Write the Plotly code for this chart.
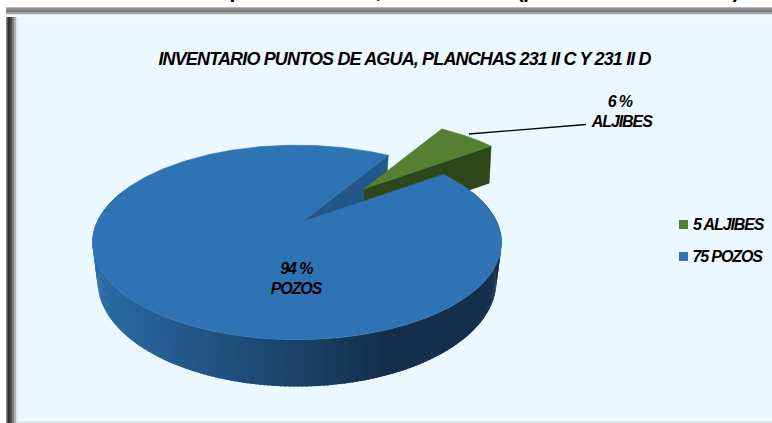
import numpy as np
import plotly.graph_objects as go

# ---- data ----
categories = ["ALJIBES", "POZOS"]
values = [5, 75]
slice_colors = ["#558031", "#2E74B5"]
title_text = "INVENTARIO PUNTOS DE AGUA, PLANCHAS 231 II C Y 231 II D"
clipped_heading = [("p", 236), (",", 378), ("(p", 526), (")", 735)]

# ---- pie projection ----
W, H = 772, 423
CX, CY = 302.0, 222.0
A, B, K = 200.0, 93.0, 0.21
DEPTH = 37.0
START = 32.5
FONT = "Liberation Sans"


def project(theta_deg, r=1.0, depth=0.0):
    t = np.radians(theta_deg)
    u, v = r * np.sin(t), r * np.cos(t)
    w = 1 + K * v
    shrink = 1 - 0.025 * depth / DEPTH
    return CX - 5 * r + A * u / w * shrink, CY - B * v / w + depth / w


def mix(c1, c2, f):
    a = [int(c1[i:i + 2], 16) for i in (1, 3, 5)]
    b = [int(c2[i:i + 2], 16) for i in (1, 3, 5)]
    return "#" + "".join(f"{round(p + (q - p) * f):02x}" for p, q in zip(a, b))


total = sum(values)
sweeps = [360 * v / total for v in values]
a0 = START
a1 = a0 + sweeps[0]
a2 = a1 + sweeps[1]

fig = go.Figure()


def poly(xs, ys, color, lw=0.6):
    fig.add_trace(go.Scatter(x=list(xs), y=list(ys), mode="lines", fill="toself",
                             fillcolor=color, line=dict(color=color, width=lw),
                             hoverinfo="skip", showlegend=False))


GDX, GDY, GS = 62.0, -33.0, 0.9

# inner cut wall of the blue slice (filled as far as the raised slice)
xe, ye = project(a2)
xb, yb = project(a2, 1.0, DEPTH * 0.72)
xr, yr = project(a1)
f_edge = GDX / (xr - CX)
poly([CX, xe, xb, CX + GDX + 2, CX], [CY, ye, yb, CY + (yr - CY) * f_edge, CY], "#215789")

# exploded green slice
arc = np.linspace(a0, a1, 24)


def green(theta, depth):
    x, y = project(theta, 1.0, 0.0)
    return CX + GDX + (x - CX) * GS, CY + GDY + (y - CY) * GS + depth


gx_end, gy_end = green(a1, 0)
gx_bot, gy_bot = green(a1, DEPTH)
poly([CX + GDX, gx_end, gx_bot - 2, CX + GDX], [CY + GDY, gy_end, gy_bot, CY + GDY + DEPTH], "#2E471A")
gx, gy = green(arc, 0)
poly(np.r_[CX + GDX, gx], np.r_[CY + GDY, gy], slice_colors[0])

# blue side wall, shaded by position
blue_arc = np.linspace(a1, a2, 340)
step = blue_arc[1] - blue_arc[0]
for t1 in blue_arc[:-1]:
    t2 = t1 + step * 1.6
    if np.cos(np.radians(t1 + step / 2)) > 0.35:
        continue
    x1, y1 = project(t1)
    x2, y2 = project(t2)
    x3, y3 = project(t2, 1.0, DEPTH)
    x4, y4 = project(t1, 1.0, DEPTH)
    f = np.clip(((x1 + x2) / 2 - 95) / 290, 0, 1)
    poly([x1, x2, x3, x4], [y1, y2, y3, y4], mix("#2A6BA6", "#142F4B", f), lw=0)

# blue top face
bx, by = project(blue_arc)
poly(np.r_[CX, bx], np.r_[CY, by], slice_colors[1])

# leader line of the small slice
fig.add_trace(go.Scatter(x=[469, 578, 586], y=[134, 124.5, 124.5], mode="lines",
                         line=dict(color="#000000", width=1.3),
                         hoverinfo="skip", showlegend=False))

# legend rows
legend_y = [224.5, 256.5]
fig.add_trace(go.Scatter(x=[683.5, 683.5], y=legend_y, mode="markers",
                         marker=dict(symbol="square", size=9, color=slice_colors),
                         hoverinfo="skip", showlegend=False))

# frame bevel
shapes = [dict(type="rect", x0=7, x1=W, y0=8, y1=H, fillcolor="#EBF8FF", line_width=0, layer="below")]
left = [(6, "#8a8a8a"), (7, "#555555"), (8, "#333333"), (10, "#4a4a4a"), (12, "#7a7a7a"), (14, "#b0b0b0"), (16, "#dfe8ec")]
for i, (x, c) in enumerate(left):
    x1 = left[i + 1][0] if i + 1 < len(left) else 18
    shapes.append(dict(type="rect", x0=x, x1=x1, y0=8, y1=H, fillcolor=c, line_width=0, layer="below"))
top = [(7, "#b8b8b8"), (8, "#8f8f8f"), (10, "#7a7a7a"), (12, "#a0a4a6"), (14, "#d8e2e8"), (15, "#f0fbff")]
for i, (y, c) in enumerate(top):
    y1 = top[i + 1][0] if i + 1 < len(top) else 17
    shapes.append(dict(type="rect", x0=6, x1=W, y0=y, y1=y1, fillcolor=c, line_width=0, layer="below"))
shapes.append(dict(type="rect", x0=18, x1=W, y0=421, y1=H, fillcolor="#DDE8F2", line_width=0, layer="below"))


def label(x, y, text, size=16, **kw):
    return dict(x=x, y=y, text=f"<b><i>{text}</i></b>", showarrow=False,
                font=dict(family=FONT, size=size, color="#000000"), **kw)


annotations = [
    label(404, 58.5, title_text, size=18),
    label(620, 101, f"{round(100 * values[0] / total)} %"),
    label(621, 121, categories[0]),
    label(296, 268, f"{round(100 * values[1] / total)} %"),
    label(296, 288, categories[1]),
]
for name, val, ly in zip(categories, values, legend_y):
    annotations.append(label(686, ly, f"{val} {name}", xanchor="left"))
for glyph, px in clipped_heading:
    annotations.append(dict(xref="paper", yref="paper", x=px / W, y=1 - 3.5 / H, xanchor="center", yanchor="bottom",
                            text=f"<b>{glyph}</b>", showarrow=False, borderpad=0,
                            font=dict(family=FONT, size=21, color="#000000")))

fig.update_layout(
    width=W, height=H, autosize=False, margin=dict(l=0, r=0, t=0, b=0),
    paper_bgcolor="#FFFFFF", plot_bgcolor="rgba(0,0,0,0)",
    xaxis=dict(range=[0, W], visible=False, fixedrange=True),
    yaxis=dict(range=[H, 0], visible=False, fixedrange=True),
    shapes=shapes, annotations=annotations, showlegend=False,
)
post = """
document.body.style.margin='0';
document.querySelectorAll('.annotation-text').forEach(function(t){
  var s = parseFloat(t.style.fontSize) || 16;
  t.style.letterSpacing = s > 17 ? '-0.85px' : '-1.1px';
});
"""
fig.write_html("out.html", config={"displayModeBar": False}, post_script=post)
